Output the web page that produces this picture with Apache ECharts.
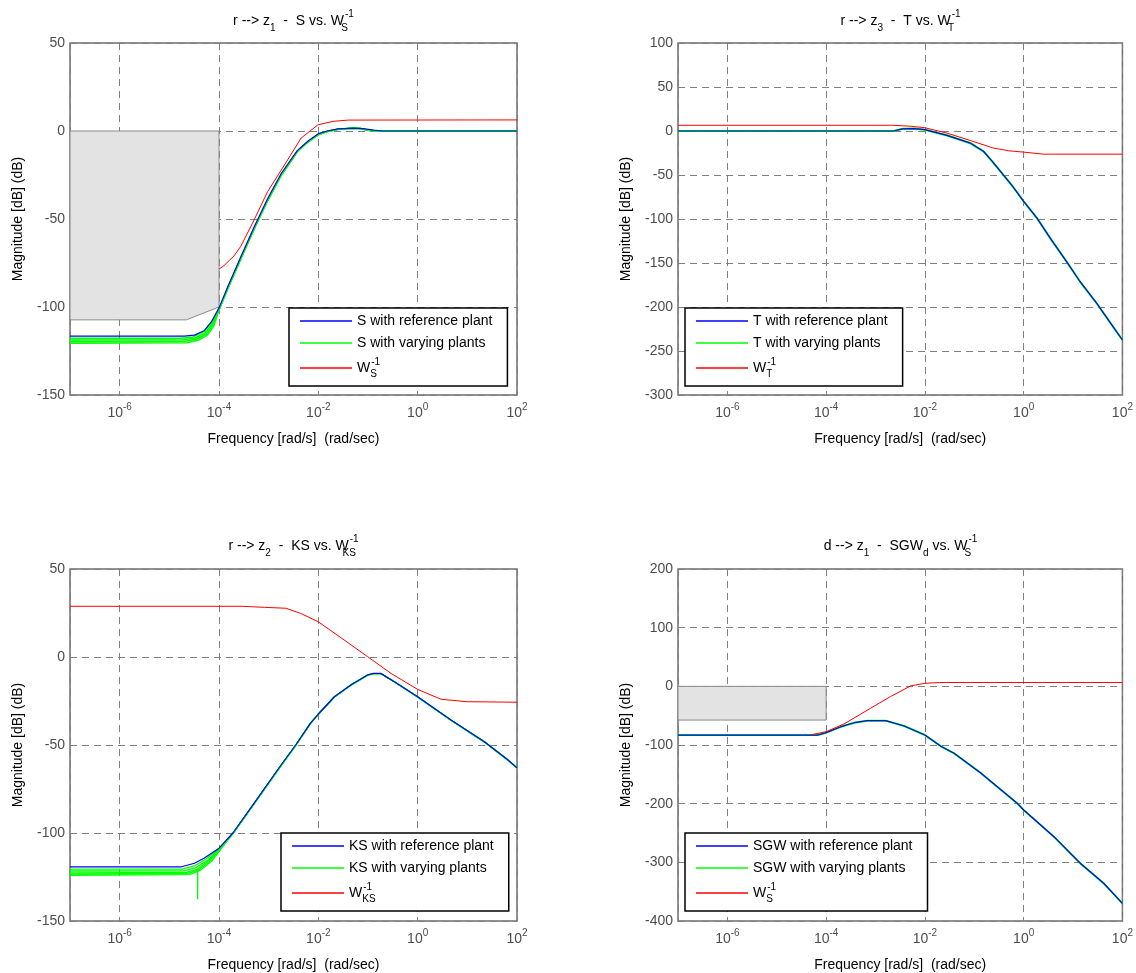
<!DOCTYPE html>
<html>
<head>
<meta charset="utf-8">
<script src="https://cdn.jsdelivr.net/npm/echarts@6/dist/echarts.min.js"></script>
<style>
  html, body { margin: 0; padding: 0; background: #fff; }
  #chart { width: 1136px; height: 973px; }
</style>
</head>
<body>
<div id="chart"></div>
<script>
// ---- top left: r --> z1, S vs W_S^-1 ----
const sRefFreq = [1e-7, 2e-5, 3.2e-5, 5e-5, 7e-5, 1e-4, 1.5e-4, 2.75e-4, 5.1e-4, 9.5e-4, 1.8e-3, 3.8e-3, 6.3e-3, 1e-2, 1.5e-2, 2.5e-2, 5e-2, 8e-2, 0.13, 0.2, 100];
const sRefMag = [-116.5, -116.5, -116, -113.5, -108.5, -100.5, -88.5, -71.5, -54.5, -38.5, -24, -11, -5.5, -1.5, 0, 1.2, 1.6, 1.4, 0.5, 0, 0];
const sVaryLowFreq = [
  [1e-7, 1.7e-5, 3e-5, 5e-5, 7e-5],
  [1e-7, 1.9e-5, 3.3e-5, 5.2e-5, 7.2e-5],
  [1e-7, 2.1e-5, 3.6e-5, 5.5e-5, 7.5e-5],
  [1e-7, 2.3e-5, 3.9e-5, 5.8e-5, 7.8e-5]
];
const sVaryLowMag = [
  [-117.8, -117.8, -117, -114, -109],
  [-118.7, -118.6, -117.6, -114.8, -109.8],
  [-119.7, -119.5, -118.2, -115.5, -110.5],
  [-120.6, -120.3, -118.8, -116, -111]
];
const sVaryTailFreq = [1e-4, 1.5e-4, 2.75e-4, 5.1e-4, 9.5e-4, 1.8e-3, 3.8e-3, 6.3e-3, 1e-2, 1.5e-2, 2.5e-2, 5e-2, 7e-2, 0.1, 0.15, 100];
const sVaryTailMag = [-101.5, -89.5, -72.5, -55.5, -39.5, -25, -11.5, -6, -2, -0.3, 1, 1.5, 1.4, 0.4, 0, 0];
const sWFreq = [1e-4, 1.26e-4, 2e-4, 2.75e-4, 5.1e-4, 9.5e-4, 2.4e-3, 4.5e-3, 9.8e-3, 2e-2, 4e-2, 100];
const sWMag = [-78.5, -76.5, -71, -65.5, -50.5, -34.5, -16.5, -4, 3.5, 5.5, 6.2, 6.3];
const sBoundFreq = [1e-7, 1e-4, 1e-4, 2.2e-5, 1e-7];
const sBoundMag = [0, 0, -100, -107.3, -107.3];

// ---- top right: r --> z3, T vs W_T^-1 ----
const tFreq = [1e-7, 2.3e-3, 3.5e-3, 6e-3, 1e-2, 2.8e-2, 8.3e-2, 0.155, 0.22, 0.34, 0.6, 1, 1.86, 3.47, 7.4, 13.8, 30, 64.5, 100];
const tRefMag = [0, 0, 2.5, 2.8, 1.5, -5, -13.7, -23.3, -33, -46, -63, -80, -99, -122, -148.5, -171, -195.7, -222.3, -237.5];
const tVaryMag = [
  [0, 0, 2, 2.5, 1.2, -5.5, -14.2, -23.8, -33.5, -46.5, -63.5, -80.5, -99.5, -122.5, -149, -171.5, -196, -222.8, -238],
  [0, 0, 2.8, 3, 1.8, -4.6, -13.3, -22.9, -32.6, -45.6, -62.6, -79.6, -98.6, -121.6, -148, -170.6, -195.3, -221.9, -237]
];
const tWFreq = [1e-7, 2.2e-3, 5e-3, 1e-2, 2.8e-2, 8.3e-2, 0.245, 0.5, 1, 2.5, 100];
const tWMag = [6.5, 6.5, 5.5, 3.7, -2.4, -10.8, -19.4, -22.5, -24, -26.3, -26.3];

// ---- bottom left: r --> z2, KS vs W_KS^-1 ----
const ksRefFreq = [1e-7, 1.7e-5, 3.2e-5, 5e-5, 1e-4, 1.9e-4, 5.1e-4, 1.66e-3, 3.5e-3, 6.9e-3, 1e-2, 2.1e-2, 4.5e-2, 9.8e-2, 0.13, 0.18, 0.34, 1, 4.7, 22, 66, 100];
const ksRefMag = [-119.3, -119.3, -117.2, -114.3, -108.6, -100, -83, -62.5, -50, -37.7, -32.4, -22.6, -15.9, -10.2, -9.3, -9.3, -14, -22.6, -35.8, -48.1, -58.5, -63];
const ksVaryLowFreq = [
  [1e-7, 1.8e-5, 3.3e-5, 5.5e-5, 1e-4],
  [1e-7, 2e-5, 3.5e-5, 6e-5, 1e-4],
  [1e-7, 2.2e-5, 3.7e-5, 3.72e-5, 3.74e-5, 6.2e-5, 1e-4],
  [1e-7, 2.4e-5, 4e-5, 6.5e-5, 1e-4],
  [1e-7, 2.5e-5, 4.2e-5, 7e-5, 1.05e-4]
];
const ksVaryLowMag = [
  [-120.5, -120.5, -118.5, -114.8, -109],
  [-121.6, -121.5, -119.5, -115.3, -109.3],
  [-122.6, -122.4, -120.5, -137.7, -120.3, -115.6, -109.5],
  [-123.3, -123, -120.8, -116, -109.7],
  [-124, -123.7, -121.2, -116.2, -109.7]
];
const ksVaryTailFreq = [1.9e-4, 5.1e-4, 1.66e-3, 3.5e-3, 6.9e-3, 1e-2, 2.1e-2, 4.5e-2, 9.8e-2, 0.13, 0.18, 0.34, 1, 4.7, 22, 66, 100];
const ksVaryTailMag = [-100.3, -83.3, -62.8, -50.2, -37.9, -32.5, -22.7, -16, -10.3, -9.4, -9.4, -14.1, -22.7, -35.9, -48.2, -58.6, -63.1];
const ksWFreq = [1e-7, 3e-4, 8.3e-4, 2.2e-3, 4.4e-3, 1e-2, 3.3e-2, 9.8e-2, 0.29, 1, 2.95, 10, 100];
const ksWMag = [28.8, 28.8, 28.2, 27.7, 24.8, 20, 9.7, 0.2, -9.3, -18.4, -24, -25.4, -25.7];

// ---- bottom right: d --> z1, SGW_d vs W_S^-1 ----
const sgwFreq = [1e-7, 6.8e-5, 1e-4, 2e-4, 3.7e-4, 6.9e-4, 1.6e-3, 3.8e-3, 1e-2, 2.1e-2, 3.9e-2, 0.133, 0.74, 1, 4.1, 14, 41.7, 100];
const sgwRefMag = [-83, -83, -79, -68.8, -62, -58.5, -58.5, -67.6, -83, -102, -114.2, -147.2, -199.4, -210.8, -256.3, -301.6, -335.7, -370];
const sgwVaryMag = [
  [-83.3, -83.3, -79.4, -69.3, -62.4, -58.9, -58.9, -68, -83.5, -102.5, -114.7, -147.7, -199.9, -211.3, -256.8, -302.1, -336.2, -370.5],
  [-82.8, -82.8, -78.7, -68.4, -61.7, -58.2, -58.2, -67.2, -82.6, -101.6, -113.8, -146.8, -199, -210.4, -255.9, -301.2, -335.3, -369.6]
];
const sgwWFreq = [5e-5, 1e-4, 2.3e-4, 7.9e-4, 2e-3, 5.1e-3, 1e-2, 2e-2, 100];
const sgwWMag = [-82.5, -77.3, -64.2, -37.4, -17.6, 0.6, 5.2, 6.5, 6.5];
const sgwBoundFreq = [1e-7, 1e-4, 1e-4, 1e-7];
const sgwBoundMag = [0, 0, -57.5, -57.5];

// axis ranges per panel
const yMins = [-150, -300, -150, -400];
const yMaxs = [50, 100, 50, 200];
const yIntervals = [50, 50, 50, 100];
const titles = [
  'r --> z{b|1}  -  S vs. W{s|S}{p|-1}',
  'r --> z{b|3}  -  T vs. W{s|T}{p|-1}',
  'r --> z{b|2}  -  KS vs. W{s|KS}{p|-1}',
  'd --> z{b|1}  -  SGW{b|d} vs. W{s|S}{p|-1}'
];
const refNames = ['S with reference plant', 'T with reference plant', 'KS with reference plant', 'SGW with reference plant'];
const varyNames = ['S with varying plants', 'T with varying plants', 'KS with varying plants', 'SGW with varying plants'];
const wNames = ['W_S', 'W_T', 'W_KS', 'W_S'];

const FONT = 'Liberation Sans, Arial, Helvetica, sans-serif';
const BLUE = '#0000ff', GREEN = '#00ff00', RED = '#ff0000';
const FS = 14;

const grids = [
  { left: 70, top: 43, width: 447, height: 352 },
  { left: 678, top: 43, width: 445, height: 352 },
  { left: 70, top: 569, width: 447, height: 352 },
  { left: 678, top: 569, width: 445, height: 352 }
];
const titlePos = [[293.5, 9], [900.5, 9], [293.5, 534], [900.5, 534]];
const legendPos = [[289, 308], [685, 308], [281, 833], [685, 833]];

function pairs(freq, mag) {
  return freq.map((f, i) => [f, mag[i]]);
}

function line(name, data, color, width, idx, z) {
  return {
    type: 'line', name: name, data: data,
    xAxisIndex: idx, yAxisIndex: idx,
    symbol: 'none', showSymbol: false, smooth: false,
    lineStyle: { color: color, width: width },
    itemStyle: { color: color },
    z: z, silent: true
  };
}

function boundary(freq, mag, idx) {
  return {
    type: 'custom', xAxisIndex: idx, yAxisIndex: idx, z: 2, silent: true,
    data: [[1e-6, -10]],
    renderItem: function (params, api) {
      return {
        type: 'polygon',
        shape: { points: freq.map((f, i) => api.coord([f, mag[i]])) },
        style: { fill: '#e3e3e3', stroke: '#8a8a8a', lineWidth: 1 }
      };
    }
  };
}

const series = [];
// top left
series.push(boundary(sBoundFreq, sBoundMag, 0));
sVaryLowFreq.forEach((f, k) => {
  series.push(line(varyNames[0], pairs(f.concat(sVaryTailFreq), sVaryLowMag[k].concat(sVaryTailMag)), GREEN, 1.5, 0, 3));
});
series.push(line(refNames[0], pairs(sRefFreq, sRefMag), BLUE, 1.2, 0, 4));
series.push(line(wNames[0], pairs(sWFreq, sWMag), RED, 1, 0, 5));
// top right
tVaryMag.forEach(m => series.push(line(varyNames[1], pairs(tFreq, m), GREEN, 1.5, 1, 3)));
series.push(line(refNames[1], pairs(tFreq, tRefMag), BLUE, 1.2, 1, 4));
series.push(line(wNames[1], pairs(tWFreq, tWMag), RED, 1, 1, 5));
// bottom left
ksVaryLowFreq.forEach((f, k) => {
  series.push(line(varyNames[2], pairs(f.concat(ksVaryTailFreq), ksVaryLowMag[k].concat(ksVaryTailMag)), GREEN, 1.3, 2, 3));
});
series.push(line(refNames[2], pairs(ksRefFreq, ksRefMag), BLUE, 1.2, 2, 4));
series.push(line(wNames[2], pairs(ksWFreq, ksWMag), RED, 1, 2, 5));
// bottom right
series.push(boundary(sgwBoundFreq, sgwBoundMag, 3));
sgwVaryMag.forEach(m => series.push(line(varyNames[3], pairs(sgwFreq, m), GREEN, 1.5, 3, 3)));
series.push(line(refNames[3], pairs(sgwFreq, sgwRefMag), BLUE, 1.2, 3, 4));
series.push(line(wNames[3], pairs(sgwWFreq, sgwWMag), RED, 1, 3, 5));

const subSup = {
  b: { fontSize: 10, lineHeight: 8, verticalAlign: 'bottom', fontFamily: FONT, color: '#000' },
  s: { fontSize: 10, lineHeight: 8, verticalAlign: 'bottom', width: 1, fontFamily: FONT, color: '#000' },
  p: { fontSize: 10, lineHeight: 12, verticalAlign: 'top', fontFamily: FONT, color: '#000' }
};

function fmtX(v) {
  const e = Math.round(Math.log10(v));
  if (e % 2 !== 0) return '';
  return '{m|10}{e|' + e + '}';
}

const option = {
  animation: false,
  backgroundColor: '#fff',
  textStyle: { fontFamily: FONT },
  title: titles.map((t, i) => ({
    text: t, left: titlePos[i][0], top: titlePos[i][1], textAlign: 'center', padding: 0,
    textStyle: { fontSize: FS, fontWeight: 'normal', color: '#000', fontFamily: FONT, lineHeight: 24, rich: subSup }
  })),
  legend: legendPos.map((p, i) => ({
    orient: 'vertical', left: p[0], top: p[1],
    padding: [5, 15, 7, 11], itemGap: 6, itemWidth: 52, itemHeight: 1.5, icon: 'rect',
    borderColor: '#000', borderWidth: 1.5, borderRadius: 0, backgroundColor: '#fff',
    selectedMode: false,
    data: [refNames[i], varyNames[i], wNames[i]],
    formatter: function (name) {
      if (name.indexOf('W_') === 0) return '{w|W}{s|' + name.slice(2) + '}{p|-1}';
      return name;
    },
    textStyle: { fontSize: FS, color: '#000', fontFamily: FONT, lineHeight: 16,
      rich: {
        w: { fontSize: FS, lineHeight: 22, verticalAlign: 'middle', fontFamily: FONT, color: '#000' },
        s: { fontSize: 10, lineHeight: 8, verticalAlign: 'bottom', width: 1, fontFamily: FONT, color: '#000' },
        p: { fontSize: 10, lineHeight: 12, verticalAlign: 'top', fontFamily: FONT, color: '#000' }
      }
    }
  })),
  grid: grids.map(g => Object.assign({ show: true, borderColor: '#6e6e6e', borderWidth: 1.5, backgroundColor: '#fff', containLabel: false }, g)),
  xAxis: grids.map((g, i) => ({
    type: 'log', logBase: 100, gridIndex: i, min: 1e-7, max: 100,
    name: 'Frequency [rad/s]  (rad/sec)', nameLocation: 'middle', nameGap: 37,
    nameTextStyle: { fontSize: FS, color: '#000', fontFamily: FONT },
    axisLine: { show: false }, axisTick: { show: false },
    splitLine: { show: true, lineStyle: { color: '#808080', width: 1, type: [7, 5] } },
    axisLabel: {
      margin: 7, formatter: fmtX, color: '#4d4d4d',
      rich: {
        m: { fontSize: FS, lineHeight: 22, color: '#4d4d4d', fontFamily: FONT, verticalAlign: 'middle' },
        e: { fontSize: 10, lineHeight: 8, color: '#4d4d4d', fontFamily: FONT, verticalAlign: 'top' }
      }
    }
  })),
  yAxis: grids.map((g, i) => ({
    type: 'value', gridIndex: i, min: yMins[i], max: yMaxs[i], interval: yIntervals[i],
    name: 'Magnitude [dB] (dB)', nameLocation: 'middle', nameGap: 45,
    nameTextStyle: { fontSize: FS, color: '#000', fontFamily: FONT },
    axisLine: { show: false }, axisTick: { show: false },
    splitLine: { show: true, lineStyle: { color: '#808080', width: 1, type: [7, 5] } },
    axisLabel: { fontSize: FS, color: '#4d4d4d', margin: 5, fontFamily: FONT }
  })),
  series: series
};

const chart = echarts.init(document.getElementById('chart'), null, { renderer: 'canvas' });
chart.setOption(option);
</script>
</body>
</html>
